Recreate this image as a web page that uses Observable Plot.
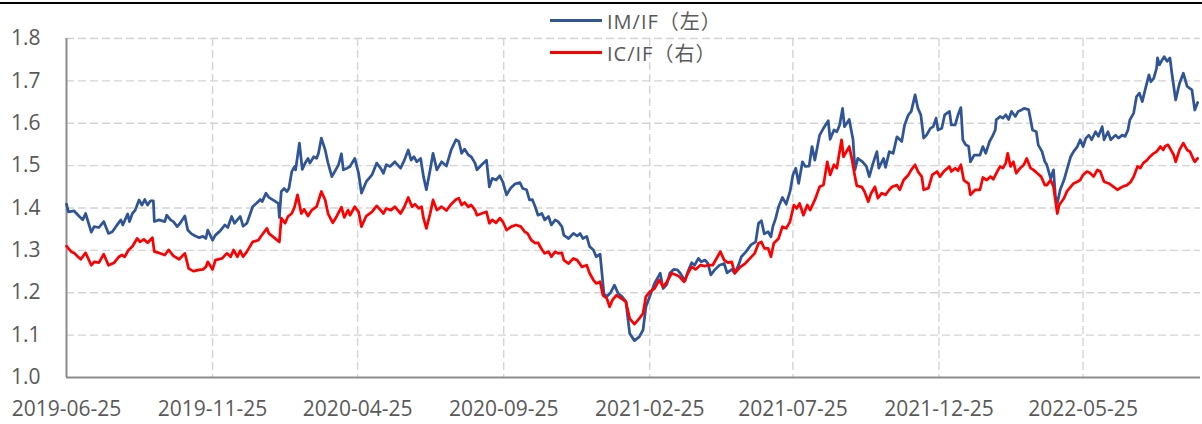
<!DOCTYPE html>
<html><head><meta charset="utf-8">
<script src="https://cdn.jsdelivr.net/npm/d3@7"></script>
<script src="https://cdn.jsdelivr.net/npm/@observablehq/plot@0.6"></script>
<style>
body{margin:0;background:#fff;}
#wrap{position:relative;width:1202px;height:424px;overflow:hidden;}
#topline{position:absolute;left:0;top:2px;width:1202px;height:1.5px;background:#000;}
.leg{position:absolute;left:550px;height:26px;display:flex;align-items:center;font-family:"Open Sans","Noto Sans CJK SC",sans-serif;font-size:20px;letter-spacing:1px;color:#595959;white-space:nowrap;}
.leg i{display:inline-block;width:52px;height:3px;margin-right:5px;}
</style></head>
<body><div id="wrap"><div id="chart"></div><div id="topline"></div></div>
<script>
const seriesNames = ["IM/IF（左）", "IC/IF（右）"];
const seriesColors = ["#2f5597", "#ff0000"];
const xStart = "2019-06-25", xEnd = "2022-09-25";
const xTicks = ["2019-06-25","2019-11-25","2020-04-25","2020-09-25","2021-02-25","2021-07-25","2021-12-25","2022-05-25"];
const yTicks = [1.0,1.1,1.2,1.3,1.4,1.5,1.6,1.7,1.8];

const imIf = [
["2019-06-25",1.409],["2019-06-27",1.391],["2019-07-03",1.393],["2019-07-08",1.381],["2019-07-12",1.372],["2019-07-15",1.387],
["2019-07-21",1.343],["2019-07-24",1.356],["2019-07-29",1.354],["2019-08-03",1.368],["2019-08-08",1.340],["2019-08-12",1.344],
["2019-08-17",1.360],["2019-08-21",1.372],["2019-08-23",1.360],["2019-08-28",1.386],["2019-08-30",1.368],["2019-09-02",1.387],
["2019-09-05",1.395],["2019-09-09",1.419],["2019-09-12",1.407],["2019-09-15",1.420],["2019-09-18",1.407],["2019-09-21",1.417],
["2019-09-24",1.417],["2019-09-25",1.368],["2019-09-30",1.372],["2019-10-06",1.368],["2019-10-08",1.383],["2019-10-12",1.372],
["2019-10-15",1.368],["2019-10-19",1.356],["2019-10-22",1.364],["2019-10-27",1.381],["2019-10-30",1.348],["2019-11-03",1.339],
["2019-11-07",1.334],["2019-11-11",1.330],["2019-11-15",1.333],["2019-11-18",1.328],["2019-11-20",1.348],["2019-11-25",1.324],
["2019-11-28",1.336],["2019-12-03",1.346],["2019-12-08",1.360],["2019-12-11",1.354],["2019-12-15",1.380],["2019-12-18",1.364],
["2019-12-24",1.380],["2019-12-27",1.357],["2019-12-31",1.364],["2020-01-06",1.403],["2020-01-10",1.411],["2020-01-14",1.420],
["2020-01-16",1.415],["2020-01-20",1.435],["2020-01-23",1.425],["2020-02-02",1.411],["2020-02-03",1.378],["2020-02-05",1.439],
["2020-02-08",1.446],["2020-02-11",1.439],["2020-02-13",1.446],["2020-02-16",1.486],["2020-02-19",1.498],["2020-02-20",1.490],
["2020-02-24",1.553],["2020-02-27",1.491],["2020-03-01",1.506],["2020-03-04",1.517],["2020-03-06",1.506],["2020-03-10",1.521],
["2020-03-13",1.517],["2020-03-15",1.529],["2020-03-18",1.565],["2020-03-22",1.537],["2020-03-25",1.506],["2020-03-29",1.474],
["2020-04-01",1.486],["2020-04-05",1.502],["2020-04-08",1.528],["2020-04-10",1.490],["2020-04-14",1.494],["2020-04-17",1.498],
["2020-04-22",1.517],["2020-04-26",1.482],["2020-04-29",1.435],["2020-05-04",1.462],["2020-05-10",1.478],["2020-05-15",1.506],
["2020-05-19",1.494],["2020-05-22",1.482],["2020-05-25",1.502],["2020-05-29",1.498],["2020-06-03",1.509],["2020-06-09",1.494],
["2020-06-13",1.513],["2020-06-17",1.537],["2020-06-20",1.513],["2020-06-23",1.521],["2020-06-26",1.509],["2020-06-30",1.517],
["2020-07-03",1.474],["2020-07-06",1.443],["2020-07-10",1.490],["2020-07-13",1.529],["2020-07-17",1.490],["2020-07-22",1.509],
["2020-07-27",1.499],["2020-08-01",1.537],["2020-08-06",1.561],["2020-08-09",1.557],["2020-08-12",1.529],["2020-08-15",1.539],
["2020-08-19",1.525],["2020-08-22",1.521],["2020-08-26",1.506],["2020-08-28",1.490],["2020-09-02",1.502],["2020-09-07",1.513],
["2020-09-10",1.450],["2020-09-13",1.470],["2020-09-17",1.466],["2020-09-21",1.476],["2020-09-24",1.462],["2020-09-28",1.431],
["2020-10-02",1.446],["2020-10-07",1.457],["2020-10-12",1.460],["2020-10-15",1.446],["2020-10-19",1.443],["2020-10-22",1.419],
["2020-10-25",1.420],["2020-10-28",1.403],["2020-10-31",1.383],["2020-11-04",1.387],["2020-11-07",1.372],["2020-11-11",1.380],
["2020-11-14",1.360],["2020-11-18",1.372],["2020-11-21",1.368],["2020-11-25",1.356],["2020-11-27",1.336],["2020-12-02",1.328],
["2020-12-07",1.340],["2020-12-11",1.334],["2020-12-14",1.340],["2020-12-17",1.328],["2020-12-21",1.333],["2020-12-24",1.309],
["2020-12-28",1.301],["2020-12-31",1.285],["2021-01-04",1.291],["2021-01-08",1.198],["2021-01-11",1.191],["2021-01-15",1.200],
["2021-01-19",1.218],["2021-01-23",1.198],["2021-01-27",1.191],["2021-01-31",1.179],["2021-02-04",1.104],["2021-02-09",1.087],
["2021-02-14",1.096],["2021-02-18",1.112],["2021-02-21",1.167],["2021-02-25",1.191],["2021-03-02",1.222],["2021-03-06",1.238],
["2021-03-08",1.246],["2021-03-11",1.210],["2021-03-15",1.220],["2021-03-18",1.246],["2021-03-22",1.255],["2021-03-26",1.254],
["2021-03-29",1.246],["2021-04-03",1.228],["2021-04-06",1.250],["2021-04-10",1.271],["2021-04-13",1.265],["2021-04-17",1.281],
["2021-04-20",1.273],["2021-04-24",1.277],["2021-04-27",1.269],["2021-04-30",1.242],["2021-05-04",1.254],["2021-05-09",1.265],
["2021-05-14",1.269],["2021-05-17",1.247],["2021-05-22",1.255],["2021-05-25",1.246],["2021-05-29",1.265],["2021-06-01",1.285],
["2021-06-06",1.297],["2021-06-11",1.313],["2021-06-16",1.320],["2021-06-19",1.364],["2021-06-22",1.370],["2021-06-25",1.339],
["2021-06-29",1.344],["2021-07-02",1.332],["2021-07-04",1.356],["2021-07-07",1.376],["2021-07-10",1.403],["2021-07-14",1.425],
["2021-07-18",1.409],["2021-07-22",1.439],["2021-07-25",1.478],["2021-07-28",1.494],["2021-07-31",1.458],["2021-08-04",1.509],
["2021-08-07",1.498],["2021-08-11",1.499],["2021-08-14",1.545],["2021-08-17",1.513],["2021-08-22",1.572],["2021-08-26",1.588],
["2021-08-31",1.606],["2021-09-02",1.562],["2021-09-06",1.584],["2021-09-09",1.580],["2021-09-12",1.596],["2021-09-15",1.635],
["2021-09-17",1.592],["2021-09-22",1.609],["2021-09-26",1.561],["2021-09-28",1.490],["2021-10-01",1.517],["2021-10-06",1.509],
["2021-10-10",1.498],["2021-10-13",1.474],["2021-10-17",1.506],["2021-10-21",1.533],["2021-10-23",1.494],["2021-10-28",1.517],
["2021-10-30",1.496],["2021-11-03",1.533],["2021-11-07",1.529],["2021-11-11",1.568],["2021-11-16",1.557],["2021-11-19",1.596],
["2021-11-23",1.620],["2021-11-26",1.628],["2021-11-30",1.667],["2021-12-03",1.635],["2021-12-06",1.620],["2021-12-09",1.565],
["2021-12-12",1.572],["2021-12-16",1.588],["2021-12-19",1.592],["2021-12-22",1.612],["2021-12-24",1.584],["2021-12-28",1.588],
["2021-12-31",1.620],["2022-01-05",1.628],["2022-01-07",1.596],["2022-01-11",1.596],["2022-01-14",1.620],["2022-01-17",1.637],
["2022-01-19",1.561],["2022-01-22",1.549],["2022-01-25",1.546],["2022-01-27",1.509],["2022-01-31",1.525],["2022-02-06",1.525],
["2022-02-09",1.545],["2022-02-12",1.529],["2022-02-16",1.557],["2022-02-19",1.569],["2022-02-22",1.584],["2022-02-23",1.608],
["2022-02-27",1.616],["2022-03-02",1.612],["2022-03-05",1.620],["2022-03-08",1.609],["2022-03-11",1.628],["2022-03-15",1.616],
["2022-03-18",1.628],["2022-03-22",1.632],["2022-03-24",1.635],["2022-03-29",1.632],["2022-03-31",1.608],["2022-04-02",1.584],
["2022-04-06",1.580],["2022-04-08",1.549],["2022-04-12",1.533],["2022-04-15",1.509],["2022-04-17",1.502],["2022-04-21",1.470],
["2022-04-24",1.490],["2022-04-26",1.427],["2022-04-28",1.411],["2022-05-01",1.443],["2022-05-05",1.466],["2022-05-08",1.490],
["2022-05-12",1.521],["2022-05-15",1.533],["2022-05-19",1.545],["2022-05-22",1.561],["2022-05-25",1.545],["2022-05-28",1.565],
["2022-05-31",1.572],["2022-06-03",1.561],["2022-06-07",1.580],["2022-06-10",1.569],["2022-06-14",1.592],["2022-06-16",1.561],
["2022-06-20",1.580],["2022-06-23",1.561],["2022-06-28",1.572],["2022-07-01",1.565],["2022-07-05",1.572],["2022-07-08",1.569],
["2022-07-11",1.584],["2022-07-13",1.608],["2022-07-17",1.624],["2022-07-20",1.663],["2022-07-23",1.671],["2022-07-26",1.651],
["2022-07-29",1.679],["2022-08-02",1.714],["2022-08-04",1.698],["2022-08-07",1.706],["2022-08-10",1.730],["2022-08-11",1.754],
["2022-08-13",1.738],["2022-08-16",1.750],["2022-08-18",1.757],["2022-08-21",1.746],["2022-08-24",1.754],["2022-08-26",1.718],
["2022-08-30",1.655],["2022-09-03",1.694],["2022-09-07",1.718],["2022-09-11",1.687],["2022-09-16",1.679],["2022-09-19",1.631],
["2022-09-22",1.649]
];

const icIf = [
["2019-06-25",1.310],["2019-06-30",1.297],["2019-07-03",1.294],["2019-07-07",1.285],["2019-07-10",1.279],["2019-07-15",1.294],
["2019-07-21",1.265],["2019-07-24",1.273],["2019-07-29",1.271],["2019-08-03",1.291],["2019-08-08",1.265],["2019-08-14",1.271],
["2019-08-19",1.285],["2019-08-22",1.289],["2019-08-25",1.285],["2019-08-29",1.301],["2019-09-02",1.309],["2019-09-07",1.328],
["2019-09-10",1.320],["2019-09-14",1.326],["2019-09-18",1.318],["2019-09-23",1.330],["2019-09-25",1.297],["2019-09-30",1.294],
["2019-10-06",1.289],["2019-10-10",1.301],["2019-10-15",1.287],["2019-10-21",1.279],["2019-10-27",1.293],["2019-10-31",1.257],
["2019-11-05",1.251],["2019-11-11",1.254],["2019-11-15",1.255],["2019-11-18",1.261],["2019-11-20",1.273],["2019-11-25",1.255],
["2019-11-28",1.277],["2019-12-05",1.281],["2019-12-10",1.293],["2019-12-14",1.285],["2019-12-17",1.301],["2019-12-21",1.285],
["2019-12-24",1.299],["2019-12-27",1.285],["2019-12-31",1.297],["2020-01-06",1.320],["2020-01-12",1.324],["2020-01-15",1.334],
["2020-01-21",1.352],["2020-01-23",1.340],["2020-02-03",1.320],["2020-02-05",1.376],["2020-02-09",1.364],["2020-02-12",1.380],
["2020-02-16",1.387],["2020-02-19",1.403],["2020-02-22",1.431],["2020-02-26",1.387],["2020-02-29",1.397],["2020-03-04",1.381],
["2020-03-08",1.395],["2020-03-13",1.403],["2020-03-18",1.439],["2020-03-22",1.419],["2020-03-25",1.387],["2020-03-30",1.365],
["2020-04-03",1.380],["2020-04-08",1.402],["2020-04-11",1.378],["2020-04-15",1.395],["2020-04-17",1.383],["2020-04-22",1.403],
["2020-04-26",1.391],["2020-04-29",1.356],["2020-05-04",1.381],["2020-05-10",1.391],["2020-05-15",1.405],["2020-05-19",1.395],
["2020-05-22",1.387],["2020-05-25",1.399],["2020-05-30",1.395],["2020-06-03",1.403],["2020-06-09",1.387],["2020-06-13",1.403],
["2020-06-17",1.425],["2020-06-21",1.403],["2020-06-24",1.409],["2020-06-28",1.399],["2020-07-01",1.403],["2020-07-03",1.376],
["2020-07-06",1.352],["2020-07-10",1.387],["2020-07-13",1.419],["2020-07-17",1.395],["2020-07-22",1.403],["2020-07-27",1.394],
["2020-08-01",1.409],["2020-08-06",1.420],["2020-08-09",1.423],["2020-08-12",1.407],["2020-08-15",1.413],["2020-08-19",1.403],
["2020-08-22",1.407],["2020-08-26",1.395],["2020-08-28",1.383],["2020-09-02",1.387],["2020-09-07",1.391],["2020-09-10",1.364],
["2020-09-13",1.372],["2020-09-17",1.365],["2020-09-21",1.376],["2020-09-24",1.368],["2020-09-28",1.348],["2020-10-03",1.356],
["2020-10-08",1.360],["2020-10-13",1.356],["2020-10-17",1.344],["2020-10-20",1.340],["2020-10-24",1.324],["2020-10-28",1.317],
["2020-10-31",1.318],["2020-11-04",1.302],["2020-11-07",1.293],["2020-11-11",1.297],["2020-11-14",1.285],["2020-11-18",1.297],
["2020-11-21",1.293],["2020-11-25",1.294],["2020-11-27",1.277],["2020-12-02",1.269],["2020-12-07",1.281],["2020-12-11",1.277],
["2020-12-16",1.261],["2020-12-21",1.265],["2020-12-24",1.246],["2020-12-28",1.230],["2020-12-31",1.222],["2021-01-04",1.226],
["2021-01-07",1.194],["2021-01-11",1.187],["2021-01-14",1.167],["2021-01-17",1.183],["2021-01-21",1.194],["2021-01-26",1.187],
["2021-01-31",1.179],["2021-02-04",1.139],["2021-02-09",1.126],["2021-02-14",1.139],["2021-02-18",1.151],["2021-02-21",1.191],
["2021-02-25",1.202],["2021-03-02",1.210],["2021-03-07",1.230],["2021-03-11",1.214],["2021-03-15",1.226],["2021-03-20",1.246],
["2021-03-25",1.242],["2021-03-28",1.238],["2021-04-02",1.226],["2021-04-06",1.246],["2021-04-10",1.261],["2021-04-14",1.255],
["2021-04-19",1.265],["2021-04-24",1.263],["2021-04-27",1.265],["2021-05-02",1.265],["2021-05-07",1.285],["2021-05-10",1.297],
["2021-05-14",1.277],["2021-05-18",1.271],["2021-05-22",1.273],["2021-05-25",1.246],["2021-05-31",1.261],["2021-06-05",1.269],
["2021-06-10",1.281],["2021-06-15",1.293],["2021-06-19",1.317],["2021-06-22",1.320],["2021-06-25",1.305],["2021-06-29",1.305],
["2021-07-02",1.285],["2021-07-05",1.317],["2021-07-10",1.328],["2021-07-14",1.356],["2021-07-18",1.352],["2021-07-22",1.368],
["2021-07-26",1.407],["2021-07-29",1.399],["2021-08-01",1.411],["2021-08-05",1.383],["2021-08-09",1.407],["2021-08-12",1.395],
["2021-08-17",1.419],["2021-08-22",1.450],["2021-08-26",1.454],["2021-08-30",1.509],["2021-09-02",1.478],["2021-09-06",1.502],
["2021-09-09",1.494],["2021-09-14",1.561],["2021-09-16",1.521],["2021-09-22",1.545],["2021-09-25",1.513],["2021-09-28",1.474],
["2021-09-30",1.452],["2021-10-05",1.450],["2021-10-08",1.439],["2021-10-12",1.415],["2021-10-15",1.435],["2021-10-19",1.450],
["2021-10-22",1.423],["2021-10-26",1.435],["2021-10-30",1.431],["2021-11-03",1.443],["2021-11-06",1.450],["2021-11-11",1.454],
["2021-11-14",1.443],["2021-11-18",1.466],["2021-11-23",1.478],["2021-11-26",1.490],["2021-11-30",1.502],["2021-12-03",1.486],
["2021-12-07",1.474],["2021-12-09",1.443],["2021-12-14",1.447],["2021-12-18",1.478],["2021-12-23",1.486],["2021-12-26",1.474],
["2021-12-30",1.486],["2022-01-05",1.498],["2022-01-07",1.486],["2022-01-11",1.494],["2022-01-14",1.488],["2022-01-17",1.502],
["2022-01-20",1.466],["2022-01-22",1.462],["2022-01-25",1.458],["2022-01-27",1.431],["2022-02-01",1.443],["2022-02-06",1.443],
["2022-02-09",1.472],["2022-02-13",1.466],["2022-02-17",1.474],["2022-02-20",1.468],["2022-02-24",1.486],["2022-02-27",1.498],
["2022-03-02",1.494],["2022-03-05",1.506],["2022-03-07",1.529],["2022-03-10",1.498],["2022-03-13",1.509],["2022-03-16",1.482],
["2022-03-20",1.494],["2022-03-24",1.502],["2022-03-27",1.517],["2022-03-31",1.494],["2022-04-03",1.490],["2022-04-07",1.482],
["2022-04-11",1.474],["2022-04-15",1.454],["2022-04-17",1.454],["2022-04-21",1.466],["2022-04-24",1.450],["2022-04-26",1.419],
["2022-04-28",1.387],["2022-04-30",1.407],["2022-05-05",1.423],["2022-05-08",1.439],["2022-05-12",1.450],["2022-05-15",1.458],
["2022-05-19",1.462],["2022-05-22",1.466],["2022-05-25",1.478],["2022-05-29",1.486],["2022-06-01",1.483],["2022-06-05",1.474],
["2022-06-09",1.490],["2022-06-12",1.486],["2022-06-16",1.462],["2022-06-21",1.458],["2022-06-26",1.450],["2022-06-30",1.443],
["2022-07-05",1.450],["2022-07-10",1.454],["2022-07-14",1.462],["2022-07-17",1.474],["2022-07-21",1.498],["2022-07-24",1.494],
["2022-07-27",1.506],["2022-07-31",1.513],["2022-08-03",1.521],["2022-08-07",1.529],["2022-08-10",1.533],["2022-08-14",1.545],
["2022-08-17",1.537],["2022-08-19",1.546],["2022-08-22",1.549],["2022-08-25",1.537],["2022-08-28",1.525],["2022-08-30",1.509],
["2022-09-03",1.537],["2022-09-07",1.553],["2022-09-11",1.537],["2022-09-14",1.533],["2022-09-18",1.513],["2022-09-19",1.509],
["2022-09-22",1.517]
];

const parse = d3.utcParse("%Y-%m-%d");
const toRows = (arr, name) => arr.map(([d, v]) => ({date: parse(d), value: v, series: name}));
const imRows = toRows(imIf, seriesNames[0]);
const icRows = toRows(icIf, seriesNames[1]);
const gridStyle = {stroke: "#d4d4d4", strokeOpacity: 1, strokeWidth: 1.4, strokeDasharray: "8,4"};

const chart = Plot.plot({
  width: 1202, height: 424,
  marginLeft: 66, marginRight: 2, marginTop: 38, marginBottom: 47,
  style: {fontFamily: '"Open Sans", sans-serif', fontSize: "21px", color: "#595959", background: "#fff", overflow: "visible"},
  x: {type: "utc", domain: [parse(xStart), parse(xEnd)]},
  y: {domain: [yTicks[0], yTicks[yTicks.length - 1]]},
  marks: [
    Plot.gridY(yTicks.slice(1), gridStyle),
    Plot.gridX(xTicks.slice(1).map(parse), gridStyle),
    Plot.axisY(yTicks, {tickSize: 0, tickPadding: 26, tickFormat: d3.format(".1f"), label: null, fontSize: 21}),
    Plot.axisX(xTicks.map(parse), {tickSize: 0, tickPadding: 24, tickFormat: d3.utcFormat("%Y-%m-%d"), label: null, fontSize: 21}),
    Plot.ruleX([parse(xStart)], {stroke: "#8c8c8c", strokeWidth: 2}),
    Plot.ruleY([yTicks[0]], {stroke: "#8c8c8c", strokeWidth: 2}),
    Plot.line(imRows, {x: "date", y: "value", stroke: seriesColors[0], strokeWidth: 2.75}),
    Plot.line(icRows, {x: "date", y: "value", stroke: seriesColors[1], strokeWidth: 2.75})
  ]
});
document.getElementById("chart").appendChild(chart);

const wrap = document.getElementById("wrap");
seriesNames.forEach((name, i) => {
  const el = document.createElement("div");
  el.className = "leg";
  el.style.top = (7 + i * 32) + "px";
  const sw = document.createElement("i");
  sw.style.background = seriesColors[i];
  el.appendChild(sw);
  el.appendChild(document.createTextNode(name));
  wrap.appendChild(el);
});
</script>
</body></html>
